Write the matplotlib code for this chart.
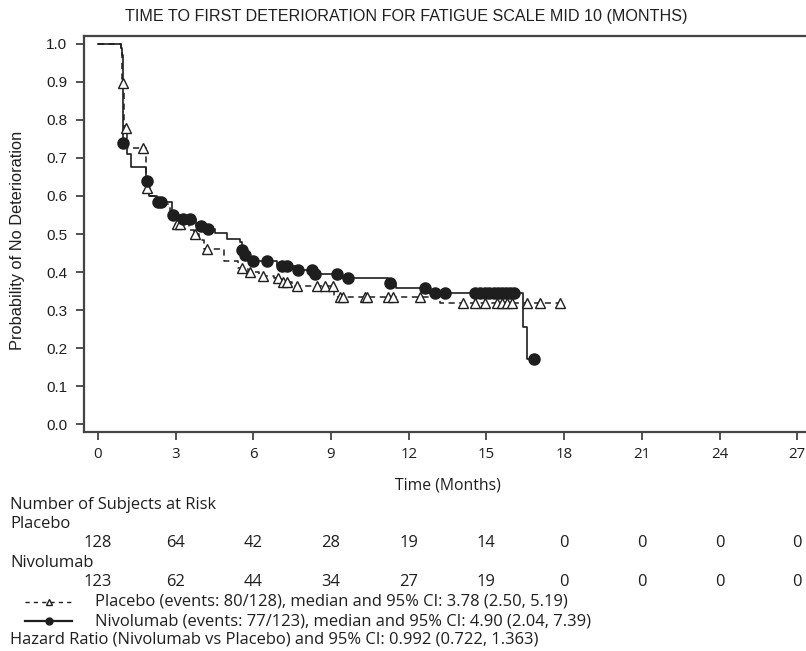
import numpy as np
import matplotlib
matplotlib.use("Agg")
import matplotlib.pyplot as plt
from matplotlib.lines import Line2D
from matplotlib.transforms import blended_transform_factory

# step curves: time of each drop and survival after it
niv_t = [0, 0.88, 0.93, 0.97, 1.12, 1.27, 1.85, 1.97, 2.28, 2.85, 3.2, 3.8, 4.1, 4.5, 5.0,
         5.5, 5.55, 5.65, 5.8, 6.9, 7.6, 8.33, 9.4, 11.2, 11.5, 12.8, 16.4, 16.55]
niv_s = [1.0, 0.99, 0.97, 0.74, 0.71, 0.675, 0.64, 0.60, 0.585, 0.55, 0.54, 0.52, 0.513, 0.502, 0.487,
         0.479, 0.458, 0.445, 0.428, 0.416, 0.405, 0.395, 0.384, 0.372, 0.358, 0.345, 0.255, 0.17]
niv_end = 16.83
niv_cens = [0.98, 1.89, 2.32, 2.45, 2.9, 3.28, 3.55, 3.98, 4.25, 5.56, 5.68, 5.98, 6.53, 7.1, 7.3,
            7.72, 8.26, 8.38, 9.23, 9.65, 11.27, 12.63, 13.0, 13.4, 14.56, 14.75, 14.95, 15.1,
            15.3, 15.45, 15.6, 15.75, 15.9, 16.05, 16.83]

pla_t = [0, 0.9, 0.93, 1.0, 1.12, 1.85, 2.0, 2.3, 2.8, 2.95, 3.5, 3.7, 3.9, 4.1, 4.85, 5.4,
         5.8, 6.2, 6.8, 7.05, 7.5, 9.1, 13.2]
pla_s = [1.0, 0.99, 0.897, 0.78, 0.726, 0.62, 0.60, 0.58, 0.55, 0.525, 0.51, 0.50, 0.485, 0.46,
         0.43, 0.41, 0.40, 0.39, 0.385, 0.375, 0.362, 0.333, 0.318]
pla_end = 17.84
pla_cens = [0.96, 1.08, 1.74, 1.89, 3.05, 3.17, 3.75, 4.21, 5.56, 5.87, 6.37, 6.95, 7.14, 7.3,
            7.68, 8.46, 8.76, 9.07, 9.34, 9.46, 10.3, 10.39, 11.2, 11.39, 12.43, 14.1, 14.56,
            14.94, 15.4, 15.6, 15.8, 15.98, 16.56, 17.07, 17.84]

risk_times = [0, 3, 6, 9, 12, 15, 18, 21, 24, 27]
risk_placebo = [128, 64, 42, 28, 19, 14, 0, 0, 0, 0]
risk_nivo = [123, 62, 44, 34, 27, 19, 0, 0, 0, 0]

title = "TIME TO FIRST DETERIORATION FOR FATIGUE SCALE MID 10 (MONTHS)"
leg_placebo = "Placebo (events: 80/128), median and 95% CI: 3.78 (2.50, 5.19)"
leg_nivo = "Nivolumab (events: 77/123), median and 95% CI: 4.90 (2.04, 7.39)"
hr_text = "Hazard Ratio (Nivolumab vs Placebo) and 95% CI: 0.992 (0.722, 1.363)"

INK = "#1e1e1e"
SANS = ["Liberation Sans", "DejaVu Sans"]
BODY = ["Open Sans", "DejaVu Sans"]
BODY_SIZE = 11.9


def level_at(t, s, x):
    idx = np.searchsorted(t, x, side="right") - 1
    return np.asarray(s)[idx]


fig = plt.figure(figsize=(8.06, 6.51), dpi=100)
W, H = 806, 651
ax = fig.add_axes([84 / W, 1 - 432 / H, 1 - 84 / W, (432 - 36) / H])
ax.set_xlim(-0.54, 27.34)
ax.set_ylim(-0.021, 1.021)

# curves
ax.step(np.append(pla_t, pla_end), np.append(pla_s, pla_s[-1]), where="post",
        color=INK, lw=1.1, linestyle=(0, (4, 3)))
ax.step(np.append(niv_t, niv_end), np.append(niv_s, niv_s[-1]), where="post",
        color=INK, lw=1.2)

ax.plot(pla_cens, level_at(pla_t, pla_s, pla_cens), linestyle="none", marker="^",
        ms=7, mfc="white", mec=INK, mew=1.0)
ax.plot(niv_cens, level_at(niv_t, niv_s, niv_cens), linestyle="none", marker="o",
        ms=8, mfc=INK, mec=INK)

ax.set_xticks(risk_times)
ax.set_yticks(np.round(np.arange(0, 1.01, 0.1), 1))
ax.set_yticklabels([f"{v:.1f}" for v in np.arange(0, 1.01, 0.1)])
for lab in ax.get_yticklabels():
    lab.set_family(SANS)
    lab.set_fontsize(11)
for lab in ax.get_xticklabels():
    lab.set_family(BODY)
    lab.set_fontsize(10.8)
ax.tick_params(axis="both", direction="out", length=6, width=1.2, color="#333333",
               labelcolor=INK)
ax.tick_params(axis="y", pad=6)
ax.tick_params(axis="x", pad=5)
for side in ["left", "bottom", "top"]:
    ax.spines[side].set_linewidth(1.6)
    ax.spines[side].set_color("#444444")
ax.spines["right"].set_visible(False)

fig.text(18 / W, 1 - 240 / H, "Probability of No Deterioration", rotation=90,
         ha="center", va="center", family=SANS, fontsize=11.8, color=INK)

fig.text(125 / W, 1 - 16 / H, title, ha="left", va="center", family=SANS,
         fontsize=11.6, color=INK)

fig.text(448 / W, 1 - 485 / H, "Time (Months)", ha="center", va="center",
         family=BODY, fontsize=11.3, color=INK)

# risk table
tr = blended_transform_factory(ax.transData, fig.transFigure)
fig.text(10 / W, 1 - 505 / H, "Number of Subjects at Risk", ha="left", va="center",
         family=BODY, fontsize=BODY_SIZE, color=INK)
fig.text(10 / W, 1 - 524 / H, "Placebo", ha="left", va="center",
         family=BODY, fontsize=BODY_SIZE, color=INK)
fig.text(10 / W, 1 - 563 / H, "Nivolumab", ha="left", va="center",
         family=BODY, fontsize=BODY_SIZE, color=INK)
for x, a, b in zip(risk_times, risk_placebo, risk_nivo):
    ax.text(x, 1 - 543 / H, str(a), transform=tr, ha="center", va="center",
            family=BODY, fontsize=BODY_SIZE, color=INK)
    ax.text(x, 1 - 582 / H, str(b), transform=tr, ha="center", va="center",
            family=BODY, fontsize=BODY_SIZE, color=INK)

# legend
y1, y2, y3 = 1 - 602 / H, 1 - 621 / H, 1 - 640 / H
fig.add_artist(Line2D([25 / W, 72 / W], [y1, y1], color=INK, lw=1.0,
                      linestyle=(0, (3, 3))))
fig.add_artist(Line2D([49 / W], [y1], marker="^", ms=5, mfc="white", mec=INK,
                      linestyle="none"))
fig.add_artist(Line2D([25 / W, 72 / W], [y2, y2], color=INK, lw=1.6))
fig.add_artist(Line2D([49 / W], [y2], marker="o", ms=5, mfc=INK, mec=INK,
                      linestyle="none"))
fig.text(95 / W, y1, leg_placebo, ha="left", va="center", family=BODY, fontsize=BODY_SIZE,
         color=INK)
fig.text(95 / W, y2, leg_nivo, ha="left", va="center", family=BODY, fontsize=BODY_SIZE,
         color=INK)
fig.text(10 / W, y3, hr_text, ha="left", va="center", family=BODY, fontsize=BODY_SIZE,
         color=INK)

fig.savefig("out.png", dpi=100)
